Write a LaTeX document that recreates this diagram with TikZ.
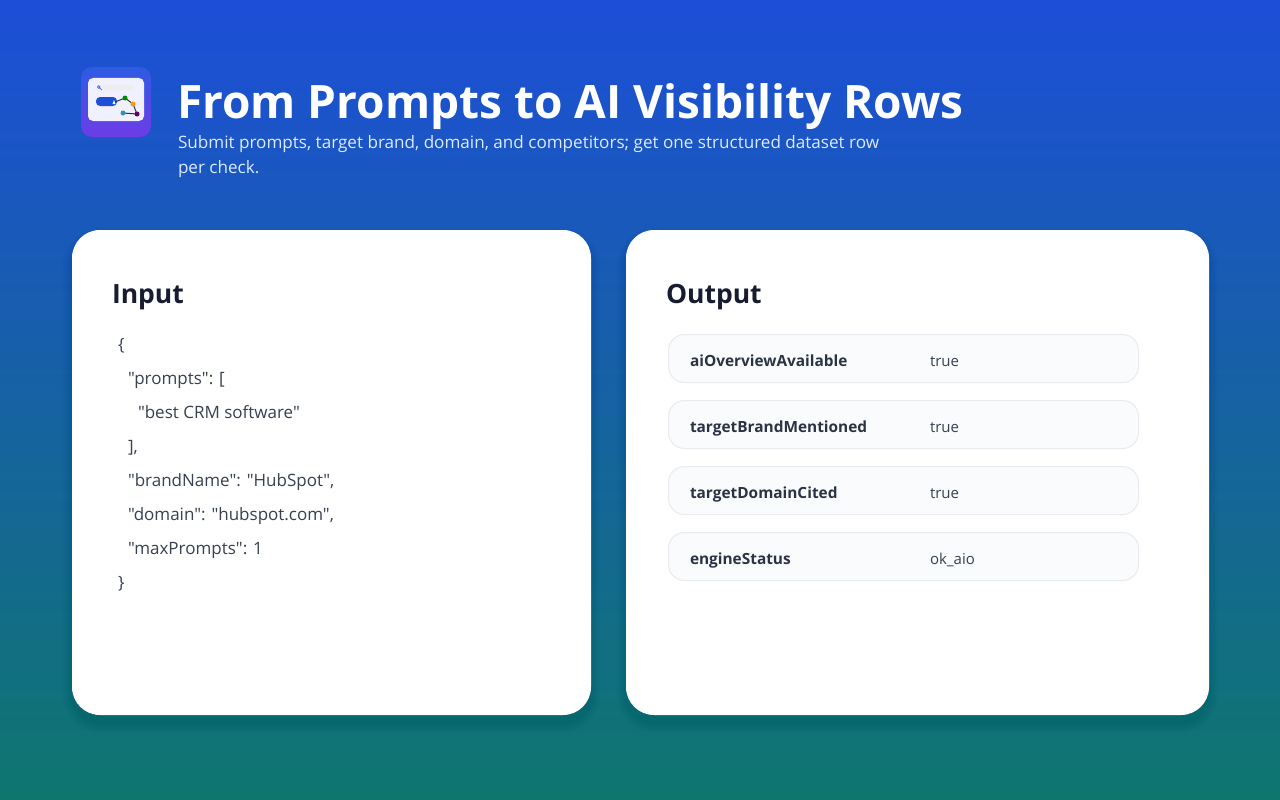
\documentclass[tikz,border=0pt]{standalone}
\usepackage{fontspec}
\setmainfont{Open Sans}[Ligatures=TeXOff]
\usetikzlibrary{calc}
\definecolor{bgtop}{HTML}{1D4ED8}
\definecolor{bgbot}{HTML}{0F766E}
\definecolor{inkdark}{HTML}{171C30}
\definecolor{inkcode}{HTML}{374151}
\definecolor{inkrow}{HTML}{2A3244}
\definecolor{rowfill}{HTML}{F9FBFD}
\definecolor{rowline}{HTML}{E8EBEF}
\definecolor{subtext}{HTML}{DBEAFE}
\definecolor{icontop}{HTML}{2F5BE3}
\definecolor{iconbot}{HTML}{6D3CE6}
\tikzset{
    txt/.style={anchor=base west, inner sep=0pt, outer sep=0pt},
    cardbox/.style={fill=white, rounded corners=28},
    rowbox/.style={draw=rowline, fill=rowfill, line width=1, rounded corners=16},
    codeline/.style={txt, text=inkcode, font=\fontsize{17}{20}\selectfont},
    cardtitle/.style={txt, text=inkdark, font=\fontsize{26.5}{30}\selectfont\bfseries},
}
\begin{document}
\begin{tikzpicture}[x=1pt,y=-1pt]
        \useasboundingbox (0,0) rectangle (1280,800);
        \shade[top color=bgtop, bottom color=bgbot] (0,0) rectangle (1280,800);

        \newcommand\softshadow[4]{
            \foreach \g in {1,...,10} {
                \fill[black, opacity=0.004, rounded corners=28+\g]
                    (#1-\g,#2+8-\g) rectangle (#3+\g,#4+8+\g);
            }
        }
        \newcommand\outrow[4]{
            \path[rowbox] (668.5,#1) rectangle (1138.5,#1+48);
            \node[txt, text=inkrow, font=\fontsize{15.4}{17}\selectfont\bfseries] (#4k) at (690,#1+31.5) {#2};
            \node[txt, text=inkcode, font=\fontsize{15}{17}\selectfont] (#4v) at (930,#1+31.5) {#3};
        }

        % icon
        \shade[top color=icontop, bottom color=iconbot, rounded corners=11] (81,67) rectangle (151,137);
        \fill[rounded corners=5, white!94!blue] (88,78) rectangle (144,121);
        \fill[rounded corners=2, black!7!white] (103,85) rectangle (133,90);
        \draw[bgtop!80, line width=0.8] (98.7,87) circle (1.3) (99.7,88) -- (102,90);
        \fill[rounded corners=4, bgtop] (96,97) rectangle (117,106);
        \draw[inkrow, line width=1] (115,102) -- (125,98) -- (133,104) -- (137,114) -- (123,113);
        \fill[white] (112.5,104) -- (114,100) -- (115.5,104) -- cycle;
        \fill[green!55!black] (125,98) circle (2.5);
        \fill[orange!80!yellow] (133,104) circle (2.5);
        \fill[violet!80!black] (137,114) circle (2.5);
        \fill[cyan!70!black] (123,113) circle (2.5);

        % header
        \node[txt, text=white, font=\fontsize{46}{50}\selectfont\bfseries] (title) at (177,118) {From Prompts to AI Visibility Rows};
        \node[txt, text=subtext, font=\fontsize{17.1}{20}\selectfont] (subone) at (178,148) {Submit prompts, target brand, domain, and competitors; get one structured dataset row};
        \node[txt, text=subtext, font=\fontsize{17.1}{20}\selectfont] (subtwo) at (178,173) {per check.};

        % cards
        \softshadow{72}{230}{591}{715}
        \softshadow{626}{230}{1209}{715}
        \path[cardbox] (72,230) rectangle (591,715);
        \path[cardbox] (626,230) rectangle (1209,715);
        \node[cardtitle] (intitle) at (112,303) {Input};
        \node[cardtitle] (outtitle) at (666,303) {Output};

        % input json
        \node[codeline] (c1) at (118,350) {\{};
        \node[codeline] (c2) at (128,384) {"prompts": [};
        \node[codeline] (c3) at (138,418) {"best CRM software"};
        \node[codeline] (c4) at (128,452) {],};
        \node[codeline] (c5) at (128,486) {"brandName": "HubSpot",};
        \node[codeline] (c6) at (128,520) {"domain": "hubspot.com",};
        \node[codeline] (c7) at (128,554) {"maxPrompts": 1};
        \node[codeline] (c8) at (118,588) {\}};

        % output rows
        \outrow{334.5}{aiOverviewAvailable}{true}{ao}
        \outrow{400.5}{targetBrandMentioned}{true}{tb}
        \outrow{466.5}{targetDomainCited}{true}{td}
        \outrow{532.5}{engineStatus}{ok\_aio}{es}
\end{tikzpicture}
\end{document}
